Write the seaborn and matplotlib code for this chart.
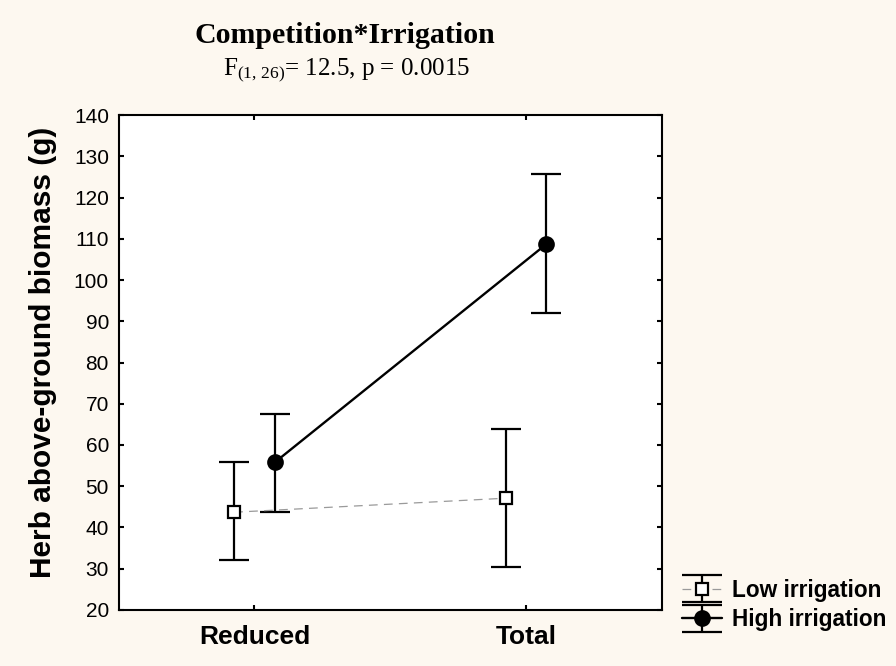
import numpy as np
import pandas as pd
import matplotlib
matplotlib.use("Agg")
import matplotlib.pyplot as plt
import seaborn as sns
from matplotlib.legend_handler import HandlerTuple, HandlerErrorbar
from matplotlib.container import ErrorbarContainer
from matplotlib.lines import Line2D
from matplotlib.collections import LineCollection

# ---- data ----
competition = ["Reduced", "Total"]
irrigation = ["Low irrigation", "High irrigation"]
low_mean = [43.7, 47.1]
low_lower = [32.0, 30.4]
low_upper = [55.8, 63.9]
high_mean = [55.8, 108.7]
high_lower = [43.8, 92.1]
high_upper = [67.4, 125.7]

title = "Competition*Irrigation"
subtitle = r"F$_{(1,\,26)}$= 12.5, p = 0.0015"
ylabel = "Herb above-ground biomass (g)"
yticks = list(range(20, 141, 10))

df = pd.DataFrame({
    "Competition": competition * 2,
    "Irrigation": [irrigation[0]] * 2 + [irrigation[1]] * 2,
    "Biomass": low_mean + high_mean,
})

sns.set_style("ticks")
plt.rcParams["font.family"] = ["Liberation Sans", "DejaVu Sans"]
plt.rcParams["mathtext.fontset"] = "custom"
plt.rcParams["mathtext.rm"] = "Liberation Serif"
plt.rcParams["mathtext.it"] = "Liberation Serif:italic"
for k in ["text.color", "axes.labelcolor", "xtick.color", "ytick.color", "axes.edgecolor"]:
    plt.rcParams[k] = "black"

bg = "#fdf8f0"
fig = plt.figure(figsize=(8.96, 6.66), dpi=100, facecolor=bg)
ax = fig.add_axes([0.1325, 0.0841, 0.606, 0.7432])
ax.set_facecolor("white")

sns.pointplot(data=df, x="Competition", y="Biomass", hue="Irrigation",
              order=competition, hue_order=irrigation, dodge=0.15,
              markers=["s", "o"], linestyles=["--", "-"],
              palette=["black", "black"], errorbar=None, legend=False, ax=ax)

lines = [l for l in ax.lines if len(l.get_xdata()) == 2]
low_line, high_line = lines[0], lines[1]

low_line.set_color("#9a9a9a")
low_line.set_linewidth(0.9)
low_line.set_dashes([7, 5])
low_line.set_marker("s")
low_line.set_markersize(9)
low_line.set_markerfacecolor("white")
low_line.set_markeredgecolor("black")
low_line.set_markeredgewidth(1.6)
low_line.set_zorder(4)

high_line.set_color("black")
high_line.set_linewidth(1.7)
high_line.set_marker("o")
high_line.set_markersize(10)
high_line.set_markerfacecolor("black")
high_line.set_markeredgecolor("black")
high_line.set_zorder(4)

for line, mean, lo, hi in [(low_line, low_mean, low_lower, low_upper),
                           (high_line, high_mean, high_lower, high_upper)]:
    x = line.get_xdata()
    m = np.array(mean)
    yerr = [m - np.array(lo), np.array(hi) - m]
    ax.errorbar(x, m, yerr=yerr, fmt="none", ecolor="black",
                elinewidth=1.6, capsize=10.5, capthick=1.6, zorder=3)

ax.set_ylim(20, 140)
ax.set_xlim(-0.5, 1.5)
ax.set_yticks(yticks)
ax.set_xlabel("")
ax.set_ylabel(ylabel, fontsize=21.5, fontweight="bold")
ax.yaxis.set_label_coords(-0.113, 0.52)
ax.tick_params(axis="y", labelsize=15, direction="in", length=3.5, width=1.5,
               right=True, pad=7)
ax.tick_params(axis="x", labelsize=19, direction="in", length=3.5, width=1.5,
               top=True, pad=11)
for lab in ax.get_xticklabels():
    lab.set_fontweight("bold")
for s in ax.spines.values():
    s.set_visible(True)
    s.set_linewidth(1.5)
    s.set_color("black")

fig.text(0.385, 1 - 43 / 666, title, ha="center", va="baseline", fontsize=21.5,
         fontweight="bold", family=["Liberation Serif", "DejaVu Serif"])
fig.text(0.387, 1 - 75 / 666, subtitle, ha="center", va="baseline", fontsize=18,
         family=["Liberation Serif", "DejaVu Serif"])


def eb_proxy():
    cap = Line2D([], [], color="black", marker="_", markersize=29, markeredgewidth=1.6)
    bar = LineCollection([], colors="black", linewidths=1.6)
    return ErrorbarContainer((None, (cap, cap), (bar,)), has_xerr=False, has_yerr=True)


handles = [(eb_proxy(), low_line), (eb_proxy(), high_line)]
leg = fig.legend(handles, irrigation,
                 handler_map={tuple: HandlerTuple(ndivide=1),
                              ErrorbarContainer: HandlerErrorbar(yerr_size=0.6)},
                 loc="center left", bbox_to_anchor=(682 / 896, 1 - 605 / 666),
                 frameon=False, borderpad=0, borderaxespad=0,
                 prop={"weight": "bold", "size": 16.3}, handlelength=1.77,
                 handletextpad=0.45, labelspacing=0.3)

fig.savefig("out.png", dpi=100, facecolor=bg)
